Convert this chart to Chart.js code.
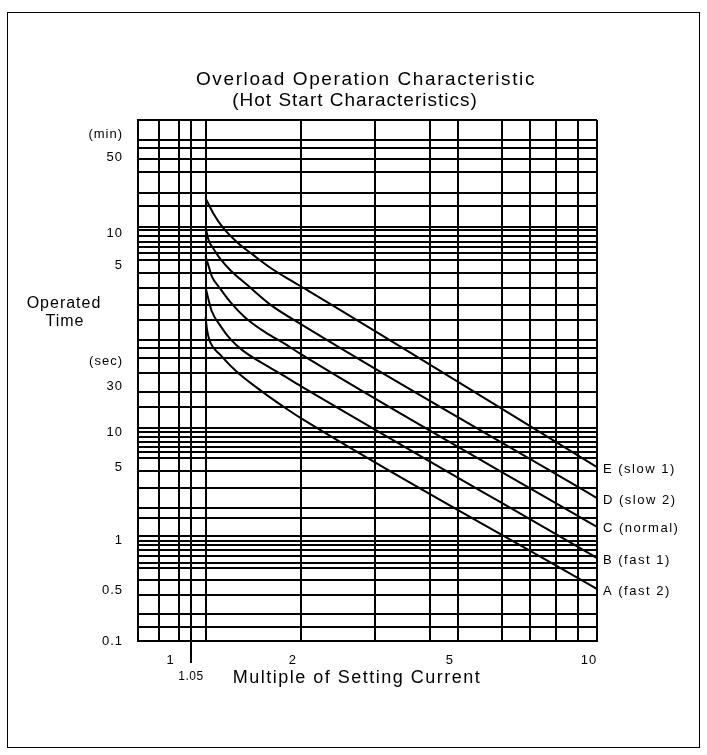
<!DOCTYPE html>
<html>
<head>
<meta charset="utf-8">
<title>Overload Operation Characteristic</title>
<script src="https://cdn.jsdelivr.net/npm/chart.js@4.4.0/dist/chart.umd.min.js"></script>
<style>
  html, body { margin: 0; padding: 0; background: #fff; }
</style>
</head>
<body>
<canvas id="overloadChart" width="707" height="755"></canvas>
<script>
// x = multiple of setting current, t = operated time in seconds
var curveNames = ['A (fast 2)', 'B (fast 1)', 'C (normal)', 'D (slow 2)', 'E (slow 1)'];

var curveA_x = [1.16, 1.17, 1.19, 1.26, 1.38, 1.59, 1.80, 1.96, 10];
var curveA_t = [100, 75.8, 58.7, 44.5, 31.0, 20.2, 14.4, 11.6, 0.303];

var curveB_x = [1.16, 1.18, 1.20, 1.26, 1.33, 1.43, 1.57, 1.75, 1.96, 10];
var curveB_t = [190, 144, 114, 82.6, 62.6, 48.4, 38.3, 30.0, 23.0, 0.587];

var curveC_x = [1.16, 1.18, 1.20, 1.26, 1.33, 1.44, 1.61, 1.80, 1.96, 10];
var curveC_t = [367, 297, 240, 182, 138, 100, 72.6, 56.2, 45.4, 1.14];

var curveD_x = [1.16, 1.18, 1.21, 1.26, 1.33, 1.46, 1.65, 1.96, 10];
var curveD_t = [681, 516, 435, 344, 272, 198, 132, 86.1, 2.11];

var curveE_x = [1.16, 1.21, 1.28, 1.38, 1.51, 1.65, 1.85, 2.03, 10];
var curveE_t = [1265, 918, 667, 494.5, 375, 290, 220, 178, 4.08];

// grid of the printed sheet (it is not a clean log paper)
var xGridValues = [0.8, 0.9, 1, 1.07, 1.16, 1.96, 2.95, 4, 4.65, 5.93, 6.92, 8, 9, 10];
var xTickValues = [1, 1.96, 4.65, 10];
var xTickLabels = ['1', '2', '5', '10'];
var xExtraValue = 1.07;
var xExtraLabel = '1.05';

var yGridValues = [0.1, 0.135, 0.178, 0.267, 0.367, 0.474, 0.528, 0.612, 0.696, 0.774, 0.843, 0.938,
  1.38, 1.70, 2.61, 3.75, 4.95, 5.62, 6.26, 6.96, 7.74, 8.61, 9.38, 14.7, 20.2, 30.3, 41.7, 51.6,
  61.2, 93.8, 129, 185.6, 255.5, 337, 391, 445, 494.5, 562, 639, 681, 1066, 1406, 2202, 2904,
  3673, 4355, 6700];
var yTickValues = [0.1, 0.297, 0.86, 4.08, 8.61, 23, 39, 300, 600, 3000, 4944];
var yTickLabels = ['0.1', '0.5', '1', '5', '10', '30', '(sec)', '5', '10', '50', '(min)'];

var titleLines = ['Overload Operation Characteristic', '(Hot Start Characteristics)'];
var xAxisTitle = 'Multiple of Setting Current';
var yAxisTitle = ['Operated', 'Time'];

var FONT = '"Liberation Sans", Arial, sans-serif';
Chart.defaults.font.family = FONT;
Chart.defaults.color = '#000';

function toPoints(xs, ts) {
    var pts = [];
    for (var i = 0; i < xs.length; i++) {
        pts.push({ x: xs[i], y: ts[i] });
    }
    return pts;
}

function mergeTicks(a, b) {
    var all = a.concat(b).filter(function (v, i, arr) { return arr.indexOf(v) === i; });
    all.sort(function (p, q) { return p - q; });
    return all.map(function (v) { return { value: v }; });
}

var curves = [
    toPoints(curveA_x, curveA_t),
    toPoints(curveB_x, curveB_t),
    toPoints(curveC_x, curveC_t),
    toPoints(curveD_x, curveD_t),
    toPoints(curveE_x, curveE_t)
];

var datasets = curves.map(function (pts, i) {
    return {
        label: curveNames[i],
        data: pts,
        borderColor: '#000',
        borderWidth: 2,
        pointRadius: 0,
        fill: false,
        cubicInterpolationMode: 'monotone'
    };
});

var spacingPlugin = {
    id: 'spacing',
    beforeDraw: function (chart) {
        chart.ctx.letterSpacing = '1px';
    }
};

var sheetText = {
    id: 'sheetText',
    afterDraw: function (chart) {
        var ctx = chart.ctx;
        var area = chart.chartArea;
        var xs = chart.scales.x;
        ctx.save();
        ctx.fillStyle = '#000';
        ctx.strokeStyle = '#000';

        // outer frame
        ctx.lineWidth = 1;
        ctx.strokeRect(7.5, 12.5, 692, 735);

        // title
        ctx.textBaseline = 'middle';
        ctx.textAlign = 'center';
        ctx.font = '19px ' + FONT;
        ctx.letterSpacing = '1.6px';
        ctx.fillText(titleLines[0], 366, 80);
        ctx.letterSpacing = '1px';
        ctx.fillText(titleLines[1], 355, 101);

        // 1.05 mark below the axis
        var px = Math.round(xs.getPixelForValue(xExtraValue));
        ctx.lineWidth = 2;
        ctx.beginPath();
        ctx.moveTo(px, area.bottom);
        ctx.lineTo(px, area.bottom + 22);
        ctx.stroke();

        ctx.letterSpacing = '0.5px';
        ctx.font = '12px ' + FONT;
        ctx.fillText(xExtraLabel, px, 677);

        ctx.letterSpacing = '1.5px';
        ctx.font = '18px ' + FONT;
        ctx.fillText(xAxisTitle, 357, 678);

        ctx.letterSpacing = '1px';
        ctx.font = '16px ' + FONT;
        ctx.fillText(yAxisTitle[0], 64, 304);
        ctx.fillText(yAxisTitle[1], 65, 322);

        // curve names at the right ends
        ctx.textAlign = 'left';
        ctx.letterSpacing = '1.5px';
        ctx.font = '13px ' + FONT;
        chart.data.datasets.forEach(function (ds, i) {
            var meta = chart.getDatasetMeta(i);
            var last = meta.data[meta.data.length - 1];
            ctx.fillText(ds.label, last.x + 6, last.y + 2);
        });
        ctx.restore();
    }
};

new Chart(document.getElementById('overloadChart'), {
    type: 'line',
    data: { datasets: datasets },
    plugins: [spacingPlugin, sheetText],
    options: {
        responsive: false,
        animation: false,
        devicePixelRatio: 1,
        layout: { padding: { left: 38, right: 110, top: 120, bottom: 84 } },
        plugins: {
            legend: { display: false },
            tooltip: { enabled: false },
            title: { display: false }
        },
        scales: {
            x: {
                type: 'logarithmic',
                min: 0.8,
                max: 10,
                afterBuildTicks: function (scale) {
                    scale.ticks = mergeTicks(xGridValues, xTickValues);
                },
                afterFit: function (scale) { scale.height = 30; },
                grid: { color: '#000', lineWidth: 2, drawTicks: false },
                border: { color: '#000', width: 2 },
                ticks: {
                    autoSkip: false,
                    maxRotation: 0,
                    padding: 12,
                    labelOffset: -8,
                    font: { size: 13 },
                    callback: function (value) {
                        var k = xTickValues.indexOf(value);
                        return k >= 0 ? xTickLabels[k] : '';
                    }
                }
            },
            y: {
                type: 'logarithmic',
                min: 0.1,
                max: 6700,
                afterBuildTicks: function (scale) {
                    scale.ticks = mergeTicks(yGridValues, yTickValues);
                },
                afterFit: function (scale) { scale.width = 100; },
                grid: {
                    drawTicks: false,
                    lineWidth: 2,
                    color: function (c) {
                        return c.tick && yGridValues.indexOf(c.tick.value) >= 0 ? '#000' : 'rgba(0,0,0,0)';
                    }
                },
                border: { color: '#000', width: 2 },
                ticks: {
                    autoSkip: false,
                    padding: 15,
                    font: { size: 13 },
                    callback: function (value) {
                        var k = yTickValues.indexOf(value);
                        return k >= 0 ? yTickLabels[k] : '';
                    }
                }
            }
        }
    }
});
</script>
</body>
</html>
